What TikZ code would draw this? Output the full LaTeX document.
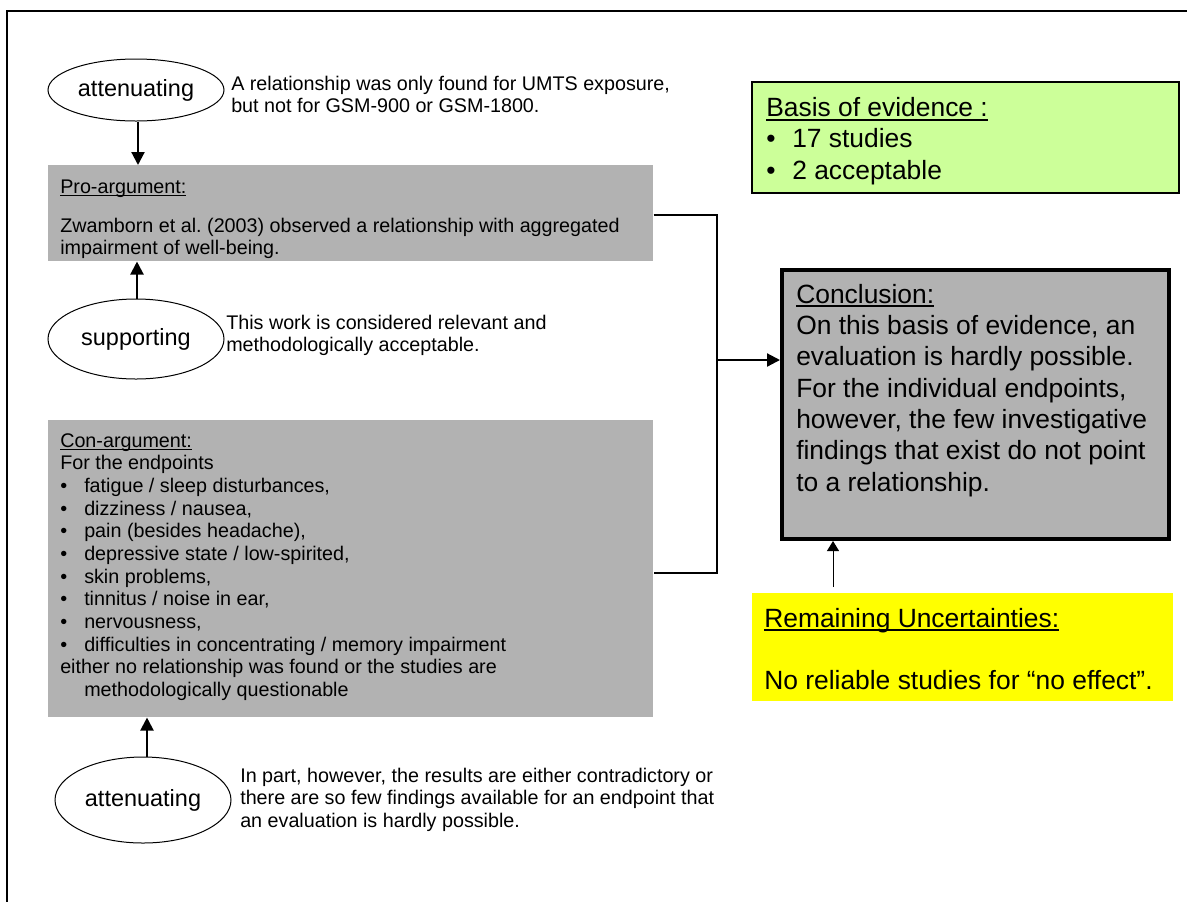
\documentclass[tikz,border=0pt]{standalone}
\usepackage{fontspec}
\setmainfont{Liberation Sans}
\usetikzlibrary{shapes.geometric,arrows.meta}
\frenchspacing

\definecolor{boxgray}{RGB}{178,178,178}
\definecolor{evgreen}{RGB}{204,255,153}
\definecolor{uncyellow}{RGB}{255,255,0}

% strut that fixes the height of a text block's first line
\newcommand\firstln{\rule{0pt}{0.9em}}
% underline set just below the baseline
\newsavebox{\ulbox}
\newcommand\undl[1]{\sbox\ulbox{#1}\rlap{\rule[-0.16em]{\wd\ulbox}{0.075em}}\usebox\ulbox}
% bullet followed by a fixed indent
\newcommand\blt[1]{\makebox[#1][l]{\textbullet}}

\tikzset{
  oval/.style={ellipse, draw, line width=0.75pt, minimum width=132pt, inner sep=0pt,
    font=\fontsize{17.6pt}{20pt}\selectfont},
  graybox/.style={fill=boxgray, draw=none, anchor=north west, inner sep=0pt, minimum width=453.75pt},
  lefttxt/.style={anchor=north west, inner sep=0pt, align=left,
    font=\fontsize{14.8pt}{17pt}\selectfont},
  righttxt/.style={anchor=north west, inner sep=0pt, align=left,
    font=\fontsize{19.8pt}{23.5pt}\selectfont},
  arr/.style={line width=1.6pt, -{Triangle[length=9.75pt,width=9.75pt]}},
  thinarr/.style={line width=0.75pt, -{Triangle[length=7.5pt,width=9pt]}},
  link/.style={line width=1.6pt},
  frame/.style={line width=1.5pt},
}

\begin{document}
\begin{tikzpicture}[x=0.75pt, y=-0.75pt]
\useasboundingbox (0,0) rectangle (1187,901);
\draw[frame] (1195,11) -| (7,910);

% ---- pro-argument with its qualifiers
\node[oval, minimum height=46.5pt] (e1) at (136,90) {attenuating};
\node[lefttxt] (t1) at (231,72.2) {\firstln A relationship was only found for UMTS exposure,\\but not for GSM-900 or GSM-1800.};
\node[graybox, minimum height=72pt] (pro) at (48,165) {};
\node[lefttxt] (protxt) at (60,175.2) {\firstln\undl{Pro-argument:}\\[12.2pt]Zwamborn et al. (2003) observed a relationship with aggregated\\impairment of well-being.};
\node[oval, minimum height=60pt] (e2) at (136,339) {supporting};
\node[lefttxt] (t2) at (226,311.2) {\firstln This work is considered relevant and\\methodologically acceptable.};

% ---- con-argument with its qualifier
\node[graybox, minimum height=222.75pt] (con) at (48,420) {};
\node[lefttxt] (contxt) at (60,429.2) {\firstln\undl{Con-argument:}\\For the endpoints\\
\blt{18pt}fatigue / sleep disturbances,\\
\blt{18pt}dizziness / nausea,\\
\blt{18pt}pain (besides headache),\\
\blt{18pt}depressive state / low-spirited,\\
\blt{18pt}skin problems,\\
\blt{18pt}tinnitus / noise in ear,\\
\blt{18pt}nervousness,\\
\blt{18pt}difficulties in concentrating / memory impairment\\
either no relationship was found or the studies are\\
\hspace*{18pt}methodologically questionable};
\node[oval, minimum height=64.5pt] (e3) at (143,800) {attenuating};
\node[lefttxt] (t3) at (240,764.2) {\firstln In part, however, the results are either contradictory or\\there are so few findings available for an endpoint that\\an evaluation is hardly possible.};

\coordinate (x1) at (138,0);
\coordinate (x2) at (137,0);
\coordinate (x3) at (147,0);
\draw[arr] (e1.south -| x1) -- (pro.north -| x1);
\draw[arr] (e2.north -| x2) -- (pro.south -| x2);
\draw[arr] (e3.north -| x3) -- (con.south -| x3);

% ---- right column
\node[draw, line width=1.5pt, fill=evgreen, anchor=north west, inner sep=0pt,
  minimum width=320.25pt, minimum height=83.25pt] (basis) at (751,81) {};
\node[righttxt] (basistxt) at (766,92.5) {\firstln\undl{Basis of evidence :}\\\blt{19.5pt}17 studies\\\blt{19.5pt}2 acceptable};

\node[draw, line width=3pt, fill=boxgray, anchor=north west, inner sep=0pt,
  minimum width=290.25pt, minimum height=201.75pt] (concl) at (780,268) {};
\node[righttxt] (concltxt) at (796,279.2) {\firstln\undl{Conclusion:}\\On this basis of evidence, an\\evaluation is hardly possible.\\For the individual endpoints,\\however, the few investigative\\findings that exist do not point\\to a relationship.};

\node[fill=uncyellow, anchor=north west, inner sep=0pt,
  minimum width=315.75pt, minimum height=81pt] (unc) at (752,593) {};
\node[righttxt] (unctxt) at (764,603.2) {\firstln\undl{Remaining Uncertainties:}\\[23.5pt]No reliable studies for “no effect”.};

% ---- connectors into the conclusion
\coordinate (jx) at (717,360);
\draw[link] ([yshift=-1.5pt]pro.east) -- ([yshift=-1.5pt]pro.east -| jx) |- ([yshift=-3.4pt]con.east);
\draw[arr] (jx) -- (concl.west |- jx);
\coordinate (ux) at (833,0);
\draw[thinarr] ([yshift=4.5pt]unc.north -| ux) -- (concl.south -| ux);
\end{tikzpicture}
\end{document}
